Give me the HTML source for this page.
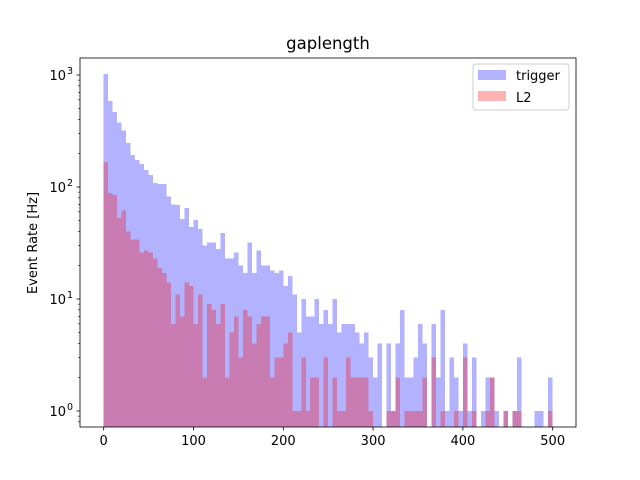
<!DOCTYPE html>
<html><head><meta charset="utf-8"><style>
body{margin:0;background:#fff;}
svg{display:block;font-family:"DejaVu Sans","Liberation Sans",sans-serif;}
</style></head><body>
<svg id="chart" width="640" height="480" viewBox="0 0 640 480">
<rect width="640" height="480" fill="#fff"/>
<text x="328" y="49" font-size="16.5" text-anchor="middle">gaplength</text>
<g id="bars" shape-rendering="crispEdges"></g>
<g id="axes"></g>
<text transform="translate(37,243) rotate(-90)" font-size="13" text-anchor="middle">Event Rate [Hz]</text>
<g>
<rect x="473" y="64" width="96" height="46" rx="3" fill="#fff" fill-opacity="0.8" stroke="#ccc"/>
<rect x="478" y="70" width="28" height="10" fill="blue" fill-opacity="0.3"/>
<text x="516" y="80" font-size="13">trigger</text>
<rect x="478" y="91" width="28" height="10" fill="red" fill-opacity="0.3"/>
<text x="516" y="102" font-size="13">L2</text>
</g>
</svg>
<script>
const binStart = 0, binWidth = 5;
const trigger = [1020,586,467,375,318,247,193,174,160,142,128,109,106,106,82,70,69,52,65,44,51,42,30,32,32,
28,39,23,23,26,20,17,32,17,27,20,20,18,17,18,13,16,11,5,10,7,7,10,6,8,6,
10,5,6,6,6,5,4,5,3,2,4,0,4,1,4,8,2,2,3,6,4,0,6,2,8,
1,3,2,1,4,1,3,0,1,2,2,1,0,1,0,1,3,0,0,0,1,1,0,2];
const l2 = [167,88,85,53,62,40,34,34,26,27,26,23,19,17,14,6,11,7,14,13,6,11,2,9,8,
6,9,2,5,7,3,8,7,4,6,7,7,2,3,3,4,5,1,1,3,1,2,2,0,3,0,
2,1,1,3,2,2,2,2,1,0,0,0,1,1,2,0,1,1,1,1,2,0,3,0,1,
0,0,1,0,3,0,1,0,0,1,2,0,0,1,0,1,1,0,0,0,0,0,0,1];
const xTicks = [0,100,200,300,400,500];
const yTicks = [0,1,2,3];

const L=80,R=576,T=58,B=427;
const xs = v => 103.7 + (v-0)*(552.7-103.7)/500;
const ys = v => 411 - Math.log10(v)*112;
const NS="http://www.w3.org/2000/svg";
const bars=document.getElementById('bars'), axes=document.getElementById('axes');
function mk(tag,attrs,parent){const e=document.createElementNS(NS,tag);for(const k in attrs)e.setAttribute(k,attrs[k]);parent.appendChild(e);return e;}
function drawSeries(arr,color,name){
  arr.forEach((v,i)=>{
    if(v<=0) return;
    const x0=xs(binStart+i*binWidth), x1=xs(binStart+(i+1)*binWidth), y=ys(v);
    const r=mk('rect',{x:x0,y:y,width:x1-x0,height:B-y,fill:color,'fill-opacity':0.3},bars);
    
    
  });
}
drawSeries(trigger,'blue','trigger');
drawSeries(l2,'red','l2');
const frame=mk('rect',{x:L,y:T,width:R-L,height:B-T,fill:'none',stroke:'#000','stroke-width':0.8},axes);


xTicks.forEach(t=>{
  const x=xs(t);
  mk('line',{x1:x,x2:x,y1:B,y2:B+3.5,stroke:'#000','stroke-width':0.8},axes);
  const tx=mk('text',{x:x,y:B+18,'font-size':13,'text-anchor':'middle'},axes);
  tx.textContent=t;
  
  
});
yTicks.forEach(p=>{
  const y=ys(Math.pow(10,p));
  mk('line',{x1:L-3.5,x2:L,y1:y,y2:y,stroke:'#000','stroke-width':0.8},axes);
  const tx=mk('text',{x:L-14,y:y+5,'font-size':13,'text-anchor':'end'},axes);
  
  
  tx.textContent='10';
  const s=mk('text',{x:L-7,y:y-1,'font-size':9.5,'text-anchor':'end'},axes);
  s.textContent=p;
  
  
});
for(let p=-1;p<=3;p++){for(let m=2;m<=9;m++){const v=m*Math.pow(10,p);const y=ys(v);if(y<T||y>B)continue;
  mk('line',{x1:L-2,x2:L,y1:y,y2:y,stroke:'#000','stroke-width':0.6},axes);}}
</script>
</body></html>
